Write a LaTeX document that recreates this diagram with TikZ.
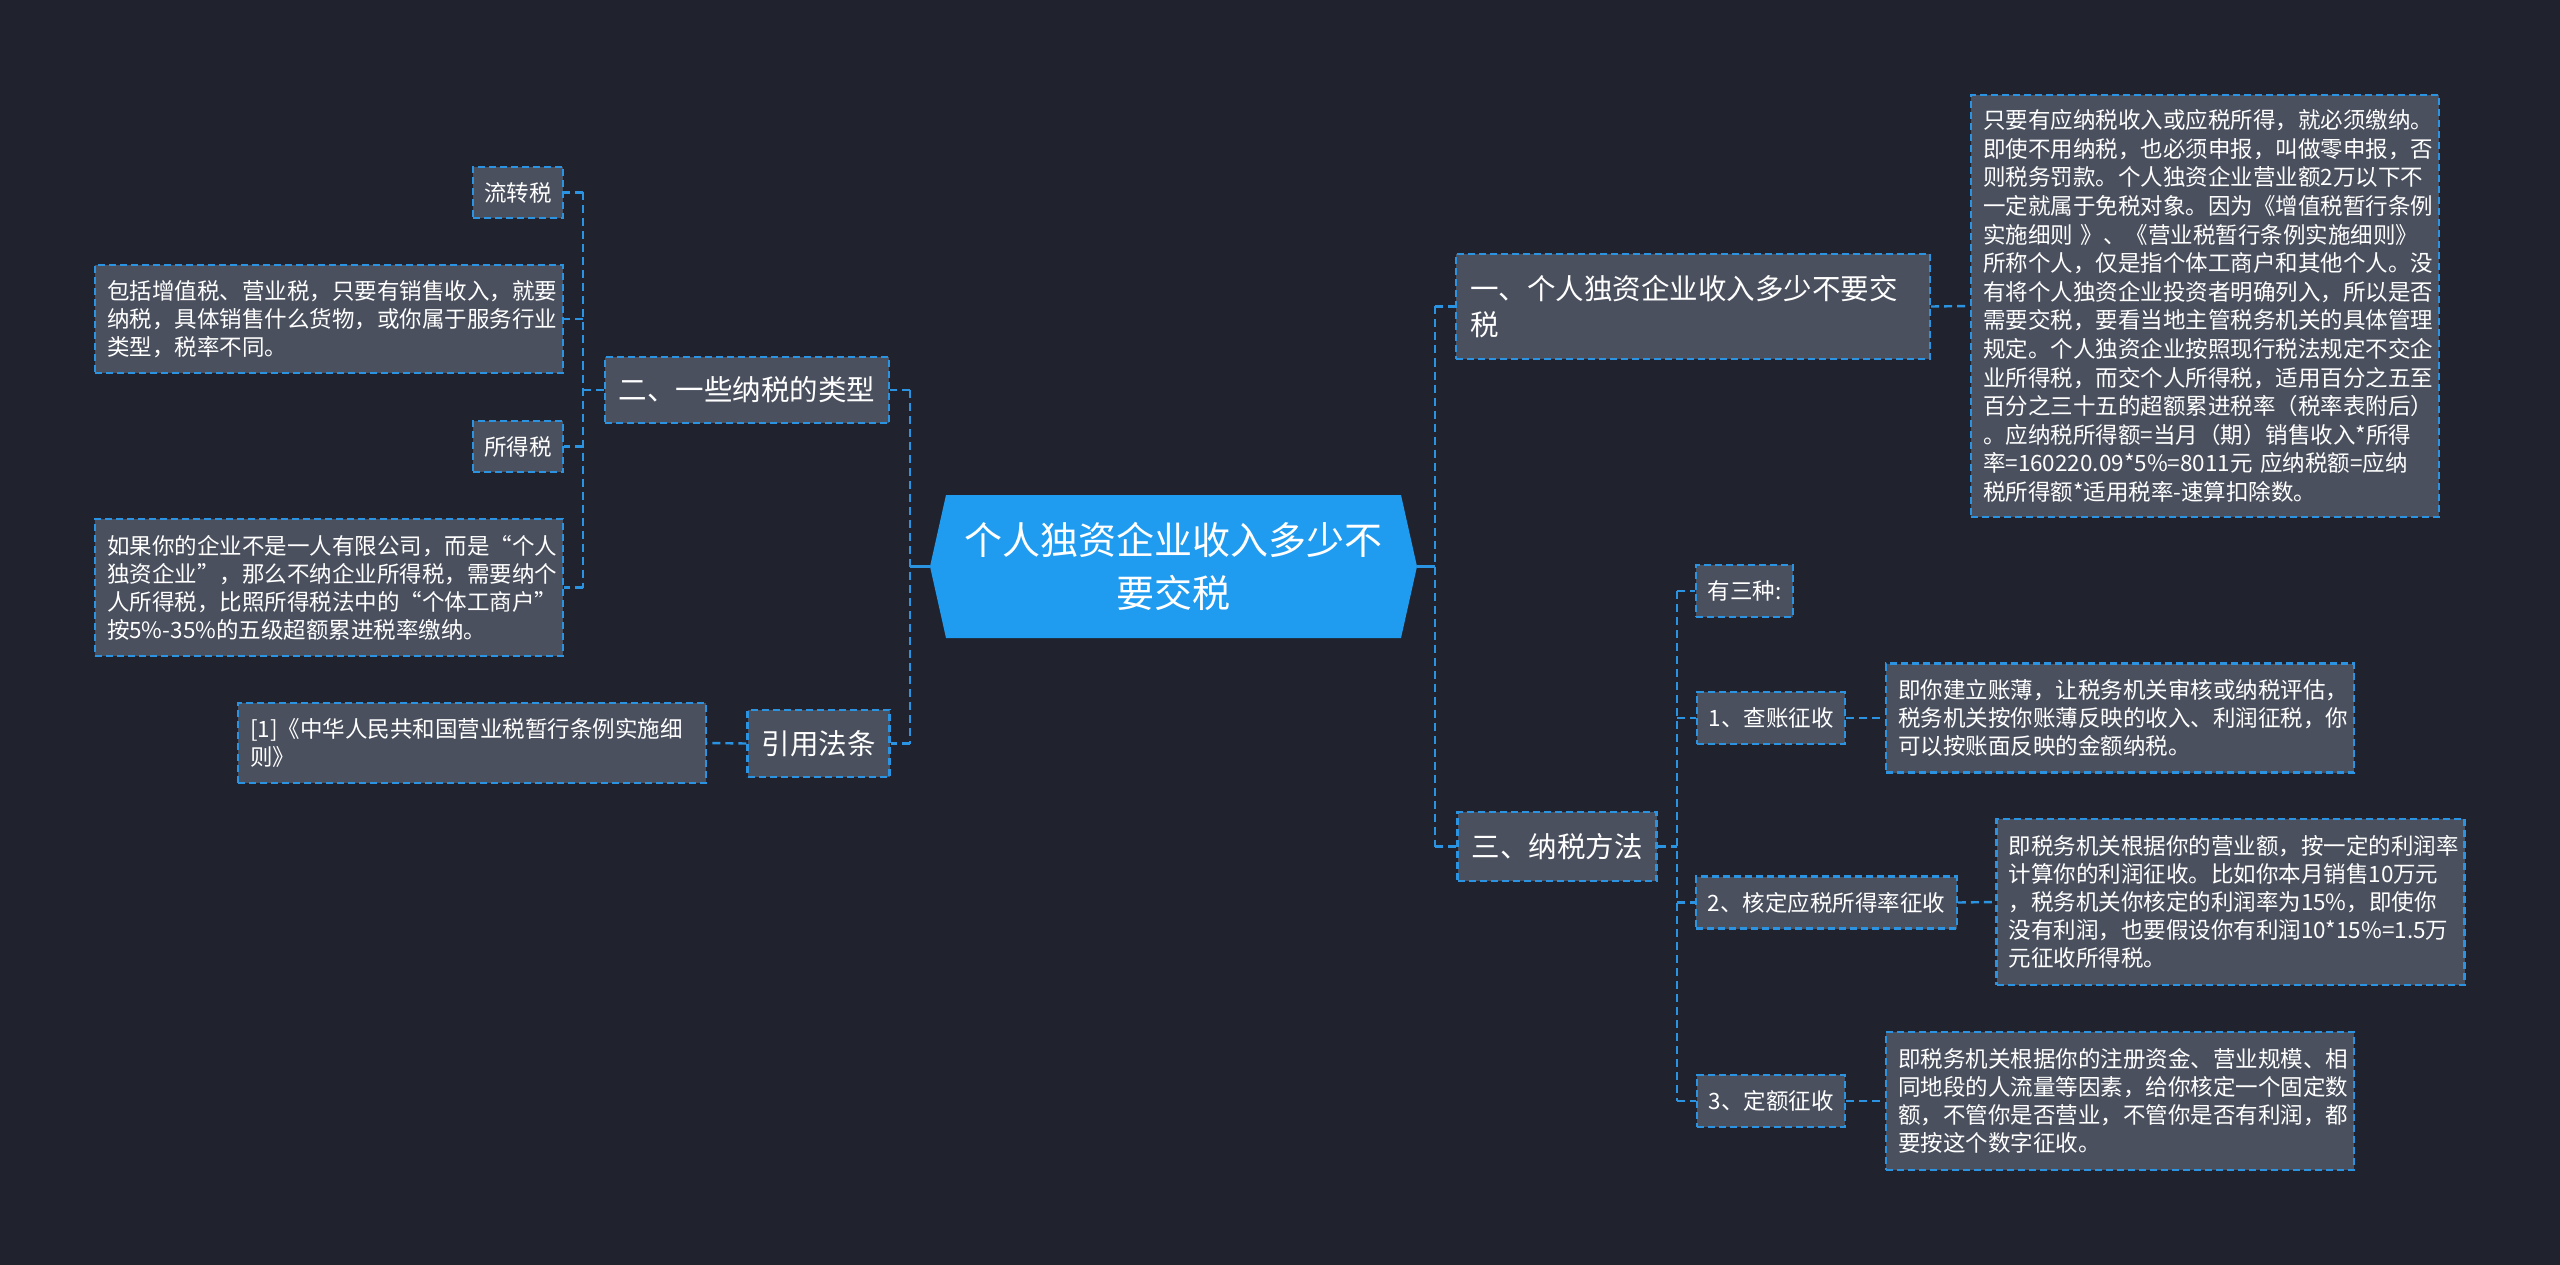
\documentclass[tikz,border=0pt]{standalone}
\usepackage{fontspec}
\setmainfont{Noto Sans CJK SC}
\definecolor{bgnavy}{HTML}{20232E}
\definecolor{boxgray}{HTML}{4A505E}
\definecolor{linkblue}{HTML}{2A93E2}
\definecolor{hubblue}{HTML}{1F9BF0}
\tikzset{
  box/.style={draw=linkblue,line width=2.4pt,dash pattern=on 7pt off 4pt,fill=boxgray,text=white},
  topic/.style={box,font=\fontsize{28.5}{36}\selectfont,inner xsep=14pt,inner ysep=0pt},
  sub/.style={box,font=\fontsize{22.5}{28}\selectfont,inner xsep=11.5pt,inner ysep=0pt,minimum height=52pt},
  leaf/.style={box,font=\fontsize{22.5}{28}\selectfont,align=left,text width=444pt,inner xsep=12pt,inner ysep=0pt},
  link/.style={draw=linkblue,line width=2.4pt,dash pattern=on 8pt off 5pt},
  stem/.style={draw=linkblue,line width=2.4pt}
}
\begin{document}
\begin{tikzpicture}[x=1pt,y=-1pt]
    \fill[bgnavy] (0,0) rectangle (2560,1265);
    \useasboundingbox (0,0) rectangle (2560,1265);
    \fill[hubblue] (930,566.5)--(946,495)--(1401,495)--(1417,566.5)--(1401,638)--(946,638)--cycle;
    \node[text=white,font=\fontsize{38}{53}\selectfont,align=center,minimum width=487pt,minimum height=143pt,inner sep=0pt] (hub) at (1173.5,566.5) {个人独资企业收入多少不\\要交税};
    % right side
    \node[topic,align=left,text width=446pt,minimum height=105pt] (whether) at (1693,306.5) {一、个人独资企业收入多少不要交\\税};
    \node[leaf,font=\fontsize{22.5}{28.6}\selectfont,minimum height=422pt] (whetherNote) at (2205,306) {只要有应纳税收入或应税所得，就必须缴纳。\\即使不用纳税，也必须申报，叫做零申报，否\\则税务罚款。个人独资企业营业额2万以下不\\一定就属于免税对象。因为《增值税暂行条例\\实施细则 》、《营业税暂行条例实施细则》\\所称个人，仅是指个体工商户和其他个人。没\\有将个人独资企业投资者明确列入，所以是否\\需要交税，要看当地主管税务机关的具体管理\\规定。个人独资企业按照现行税法规定不交企\\业所得税，而交个人所得税，适用百分之五至\\百分之三十五的超额累进税率（税率表附后）\\。应纳税所得额=当月（期）销售收入*所得\\率=160220.09*5\%=8011元 应纳税额=应纳\\税所得额*适用税率-速算扣除数。};
    \node[topic,minimum height=69pt] (methods) at (1557,846.5) {三、纳税方法};
    \node[sub] (three) at (1744.5,591) {有三种:};
    \node[sub] (audit) at (1771,718) {1、查账征收};
    \node[sub] (rate) at (1826.5,902.5) {2、核定应税所得率征收};
    \node[sub] (quota) at (1771,1101) {3、定额征收};
    \node[leaf,minimum height=109pt] (auditNote) at (2120,718) {即你建立账薄，让税务机关审核或纳税评估，\\税务机关按你账薄反映的收入、利润征税，你\\可以按账面反映的金额纳税。};
    \node[leaf,minimum height=166pt] (rateNote) at (2230.5,902) {即税务机关根据你的营业额，按一定的利润率\\计算你的利润征收。比如你本月销售10万元\\，税务机关你核定的利润率为15\%，即使你\\没有利润，也要假设你有利润10*15\%=1.5万\\元征收所得税。};
    \node[leaf,minimum height=138pt] (quotaNote) at (2120,1101) {即税务机关根据你的注册资金、营业规模、相\\同地段的人流量等因素，给你核定一个固定数\\额，不管你是否营业，不管你是否有利润，都\\要按这个数字征收。};
    % left side
    \node[topic,minimum height=66pt] (kinds) at (747,390) {二、一些纳税的类型};
    \node[sub,minimum height=51pt] (turnover) at (518,192.5) {流转税};
    \node[leaf,minimum height=108pt] (turnoverNote) at (329,319) {包括增值税、营业税，只要有销售收入，就要\\纳税，具体销售什么货物，或你属于服务行业\\类型，税率不同。};
    \node[sub,minimum height=51pt] (income) at (518,446.5) {所得税};
    \node[leaf,minimum height=137pt] (incomeNote) at (329,587.5) {如果你的企业不是一人有限公司，而是“个人\\独资企业”，那么不纳企业所得税，需要纳个\\人所得税，比照所得税法中的“个体工商户”\\按5\%-35\%的五级超额累进税率缴纳。};
    \node[topic,minimum height=67pt] (cite) at (818.5,743.5) {引用法条};
    \node[leaf,minimum height=80pt] (citeNote) at (472,743) {[1]《中华人民共和国营业税暂行条例实施细\\则》};
    % connectors
    \coordinate (rtrunk) at (1435,566.5);
    \coordinate (ltrunk) at (910,566.5);
    \coordinate (mtrunk) at (1677,846.5);
    \coordinate (ktrunk) at (583,390);
    \draw[stem] (hub.east)--(rtrunk);
    \draw[stem] (hub.west)--(ltrunk);
    \draw[link] (whether.west -| rtrunk)--(methods.west -| rtrunk);
    \foreach \n in {whether,methods}
        \draw[link] (\n.west -| rtrunk)--(\n.west);
    \draw[link] (whether.east)--(whetherNote.west);
    \draw[link] (methods.east)--(mtrunk);
    \draw[link] (three.west -| mtrunk)--(quota.west -| mtrunk);
    \foreach \n in {three,audit,rate,quota}
        \draw[link] (\n.west -| mtrunk)--(\n.west);
    \foreach \n in {audit,rate,quota}
        \draw[link] (\n.east)--(\n Note.west);
    \draw[link] (kinds.east -| ltrunk)--(cite.east -| ltrunk);
    \foreach \n in {kinds,cite}
        \draw[link] (\n.east -| ltrunk)--(\n.east);
    \draw[link] (kinds.west)--(ktrunk);
    \draw[link] (turnover.east -| ktrunk)--(incomeNote.east -| ktrunk);
    \foreach \n in {turnover,turnoverNote,income,incomeNote}
        \draw[link] (\n.east -| ktrunk)--(\n.east);
    \draw[link] (cite.west)--(citeNote.east);
\end{tikzpicture}
\end{document}
